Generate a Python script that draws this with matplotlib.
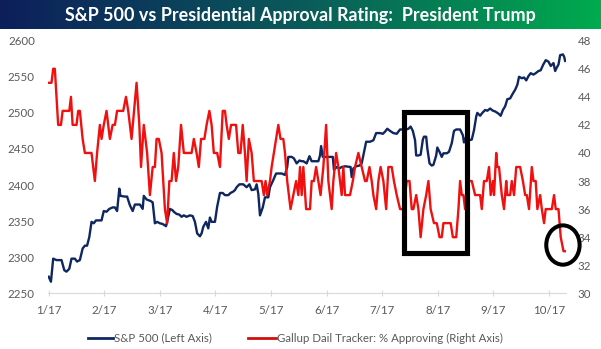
import numpy as np
import matplotlib
matplotlib.use("Agg")
import matplotlib.pyplot as plt
from matplotlib.patches import Rectangle, Ellipse
from matplotlib.lines import Line2D
from matplotlib.colors import LinearSegmentedColormap

plt.rcParams['font.family'] = ['Lato', 'DejaVu Sans']

# ---------------- data (x = months since 1 Jan 2017) ----------------
month_labels = ["1/17", "2/17", "3/17", "4/17", "5/17", "6/17", "7/17", "8/17", "9/17", "10/17"]
month_ticks = list(range(10))

sp_x = [0.00, 0.04, 0.08, 0.14, 0.23, 0.28, 0.32, 0.37, 0.41, 0.47, 0.51, 0.56, 0.61, 0.65, 0.69,
        0.73, 0.77, 0.81, 0.85, 0.95, 0.99, 1.04, 1.09, 1.15, 1.19, 1.23, 1.27, 1.29, 1.37, 1.41,
        1.46, 1.51, 1.55, 1.64, 1.69, 1.71, 1.76, 1.83, 1.87, 1.91, 1.95, 2.00, 2.05, 2.11, 2.13,
        2.18, 2.23, 2.25, 2.30, 2.35, 2.39, 2.43, 2.48, 2.54, 2.59, 2.63, 2.67, 2.72, 2.75, 2.78,
        2.83, 2.87, 2.90, 2.93, 2.99, 3.03, 3.08, 3.13, 3.17, 3.23, 3.27, 3.32, 3.35, 3.38, 3.43,
        3.50, 3.56, 3.61, 3.65, 3.71, 3.74, 3.77, 3.80, 3.85, 3.89, 3.95, 3.98, 4.04, 4.09, 4.19,
        4.25, 4.29, 4.31, 4.37, 4.41, 4.46, 4.51, 4.55, 4.58, 4.64, 4.69, 4.73, 4.85, 4.88, 4.90,
        4.93, 5.11, 5.13, 5.18, 5.23, 5.27, 5.33, 5.43, 5.45, 5.48, 5.53, 5.59, 5.63, 5.66, 5.71,
        5.78, 5.84, 5.89, 5.96, 6.01, 6.05, 6.09, 6.14, 6.20, 6.26, 6.32, 6.43, 6.47, 6.51, 6.55,
        6.59, 6.61, 6.65, 6.69, 6.73, 6.75, 6.79, 6.81, 6.85, 6.89, 6.92, 6.97, 6.99, 7.03, 7.07,
        7.10, 7.16, 7.20, 7.25, 7.29, 7.33, 7.40, 7.45, 7.47, 7.51, 7.55, 7.61, 7.65, 7.69, 7.71,
        7.76, 7.80, 7.85, 7.89, 7.94, 7.99, 8.03, 8.09, 8.13, 8.17, 8.21, 8.25, 8.30, 8.35, 8.39,
        8.43, 8.46, 8.51, 8.55, 8.59, 8.63, 8.67, 8.72, 8.76, 8.81, 8.85, 8.89, 8.94, 8.99, 9.03,
        9.08, 9.11, 9.14, 9.17, 9.20, 9.25, 9.27, 9.29]
sp_val = [2273, 2266, 2298, 2296, 2296, 2282, 2280, 2284, 2298, 2298, 2294, 2296, 2312, 2316, 2316,
          2328, 2349, 2347, 2351, 2351, 2364, 2363, 2367, 2369, 2369, 2364, 2395, 2385, 2384, 2384,
          2372, 2364, 2373, 2373, 2367, 2385, 2380, 2378, 2376, 2347, 2349, 2347, 2346, 2343, 2349,
          2367, 2365, 2363, 2360, 2359, 2356, 2358, 2356, 2358, 2357, 2349, 2333, 2329, 2333, 2342,
          2349, 2340, 2355, 2349, 2349, 2370, 2389, 2389, 2386, 2386, 2389, 2391, 2393, 2397, 2401,
          2401, 2397, 2401, 2393, 2394, 2401, 2388, 2358, 2369, 2383, 2383, 2397, 2407, 2416, 2416,
          2414, 2425, 2439, 2439, 2437, 2430, 2434, 2433, 2433, 2430, 2440, 2433, 2433, 2441, 2454,
          2439, 2439, 2421, 2425, 2423, 2425, 2426, 2425, 2411, 2423, 2426, 2427, 2430, 2441, 2460,
          2460, 2462, 2472, 2472, 2471, 2474, 2478, 2475, 2472, 2471, 2477, 2477, 2478, 2481, 2475,
          2462, 2441, 2441, 2442, 2463, 2467, 2467, 2451, 2430, 2427, 2428, 2441, 2452, 2446, 2439,
          2444, 2444, 2446, 2458, 2475, 2477, 2477, 2469, 2459, 2467, 2462, 2463, 2476, 2495, 2500,
          2496, 2500, 2504, 2503, 2506, 2503, 2502, 2499, 2496, 2504, 2509, 2519, 2520, 2527, 2532,
          2539, 2550, 2548, 2549, 2545, 2551, 2555, 2553, 2555, 2558, 2559, 2566, 2573, 2571, 2565,
          2569, 2558, 2563, 2567, 2580, 2581, 2578, 2572]

gallup_x = [0.00, 0.05, 0.08, 0.11, 0.14, 0.17, 0.22, 0.25, 0.37, 0.40, 0.43, 0.50, 0.53, 0.56, 0.61,
            0.65, 0.77, 0.83, 0.87, 0.92, 0.95, 0.99, 1.04, 1.10, 1.15, 1.19, 1.23, 1.34, 1.39, 1.43,
            1.49, 1.58, 1.63, 1.66, 1.71, 1.77, 1.82, 1.87, 1.91, 1.94, 1.98, 2.03, 2.09, 2.13, 2.17,
            2.21, 2.25, 2.29, 2.33, 2.38, 2.43, 2.57, 2.61, 2.66, 2.70, 2.74, 2.80, 2.84, 2.89, 2.93,
            2.97, 3.03, 3.08, 3.13, 3.17, 3.20, 3.24, 3.28, 3.37, 3.41, 3.45, 3.49, 3.53, 3.56, 3.60,
            3.65, 3.69, 3.83, 3.87, 3.90, 3.93, 3.98, 4.01, 4.05, 4.09, 4.13, 4.17, 4.22, 4.25, 4.29,
            4.35, 4.40, 4.45, 4.49, 4.52, 4.55, 4.58, 4.63, 4.70, 4.73, 4.77, 4.81, 4.85, 4.89, 4.94,
            4.99, 5.03, 5.06, 5.09, 5.12, 5.17, 5.21, 5.24, 5.27, 5.30, 5.33, 5.42, 5.47, 5.51, 5.57,
            5.63, 5.69, 5.72, 5.77, 5.81, 5.84, 5.89, 5.93, 5.97, 6.02, 6.07, 6.11, 6.17, 6.21, 6.26,
            6.32, 6.38, 6.44, 6.49, 6.53, 6.56, 6.61, 6.65, 6.69, 6.74, 6.79, 6.83, 6.87, 6.93, 6.98,
            7.03, 7.07, 7.10, 7.23, 7.27, 7.33, 7.37, 7.40, 7.43, 7.46, 7.49, 7.53, 7.61, 7.67, 7.76,
            7.79, 7.83, 7.88, 7.92, 7.95, 7.99, 8.01, 8.05, 8.07, 8.10, 8.15, 8.19, 8.23, 8.25, 8.30,
            8.33, 8.37, 8.41, 8.48, 8.53, 8.57, 8.60, 8.64, 8.69, 8.72, 8.76, 8.79, 8.84, 8.87, 8.91,
            8.94, 9.05, 9.09, 9.12, 9.17, 9.21, 9.26, 9.29]
gallup_val = [45, 45, 46, 46, 44, 42, 42, 43, 43, 44, 42, 42, 43, 43, 41,
              40, 40, 38, 40, 42, 41, 42, 43, 41, 42, 42, 43, 43, 44, 43,
              41, 45, 42, 39, 42, 40, 37, 39, 39, 41, 41, 40, 36, 35, 38,
              38, 40, 38, 39, 42, 40, 40, 41, 40, 39, 41, 41, 42, 43, 42,
              40, 40, 39, 43, 43, 42, 41, 42, 42, 40, 40, 42, 40, 38, 41,
              40, 38, 38, 37, 38, 37, 38, 39, 40, 41, 42, 41, 41, 40, 38,
              36, 37, 38, 37, 39, 37, 39, 36, 36, 38, 38, 39, 38, 37, 39,
              42, 38, 37, 36, 38, 40, 39, 38, 37, 39, 37, 37, 38, 39, 40,
              39, 38, 38, 39, 38, 37, 36, 38, 39, 38, 36, 39, 39, 38, 37,
              36, 36, 38, 38, 36, 36, 37, 36, 34, 36, 37, 38, 36, 35, 35,
              34, 34, 35, 35, 34, 34, 36, 38, 37, 37, 36, 38, 38, 37, 37,
              36, 38, 38, 39, 37, 38, 37, 40, 39, 39, 37, 36, 38, 37, 37,
              38, 37, 39, 39, 38, 37, 37, 36, 39, 38, 38, 36, 37, 36, 35,
              36, 36, 37, 36, 36, 34, 33, 33]

left_ticks = [2250, 2300, 2350, 2400, 2450, 2500, 2550, 2600]
right_ticks = [30, 32, 34, 36, 38, 40, 42, 44, 46, 48]

title = "S&P 500 vs Presidential Approval Rating:  President Trump"
sp_label = "S&P 500 (Left Axis)"
gallup_label = "Gallup Dail Tracker: % Approving (Right Axis)"

# ---------------- styling ----------------
W, H = 601, 349
NAVY = '#0f2660'
RED = '#f01010'
GRAY = '#595959'
AXIS_GRAY = '#d9d9d9'

fig = plt.figure(figsize=(W / 100, H / 100), dpi=100)
fig.patch.set_facecolor('white')

# title bar with gradient
bar_h = 29
tax = fig.add_axes([0, 1 - bar_h / H, 1, bar_h / H])
cmap = LinearSegmentedColormap.from_list('tb', ['#0d1f5a', '#0a5a5a', '#00ab4e'])
tax.imshow(np.linspace(0, 1, 512)[None, :], aspect='auto', cmap=cmap, extent=[0, 1, 0, 1])
tax.set_axis_off()
tt = tax.text(0.5, 0.47, title, color='white', fontsize=13.5, fontweight='bold',
              ha='center', va='center', transform=tax.transAxes)
fig.canvas.draw()
w = tt.get_window_extent().width
tt.set_fontsize(13.5 * 466 / w)

# main axes
x0, x1 = 48, 566
y_top, y_bot = 40.7, 293.3
ax = fig.add_axes([x0 / W, (H - y_bot) / H, (x1 - x0) / W, (y_bot - y_top) / H])
ax2 = ax.twinx()

ax.plot(sp_x, sp_val, color=NAVY, lw=1.7, solid_joinstyle='round')
ax2.plot(gallup_x, gallup_val, color=RED, lw=1.7, solid_joinstyle='round')

ax.set_xlim(-0.013, 9.305)
ax.set_ylim(2250, 2600)
ax2.set_ylim(30, 48)
ax.set_yticks(left_ticks)
ax2.set_yticks(right_ticks)
ax.set_xticks(month_ticks)
ax.set_xticklabels(month_labels)

for a in (ax, ax2):
    for s in a.spines.values():
        s.set_visible(False)
ax.spines['bottom'].set_visible(True)
ax.spines['bottom'].set_color(AXIS_GRAY)
ax.spines['bottom'].set_linewidth(0.8)

ax.tick_params(axis='x', direction='inout', length=5, width=0.8, color=AXIS_GRAY,
               labelcolor=GRAY, labelsize=8.3, pad=6)
ax.tick_params(axis='y', length=0, labelcolor=GRAY, labelsize=8.3, pad=9.5)
ax2.tick_params(axis='y', length=0, labelcolor=GRAY, labelsize=8.3, pad=8.5)

# annotation box and circle (in right-axis units)
ax2.add_patch(Rectangle((6.39, 32.87), 7.52 - 6.39, 42.9 - 32.87, fill=False,
                        edgecolor='black', lw=3.7, zorder=5, joinstyle='miter'))
ax2.add_patch(Ellipse((9.25, 33.44), 0.60, 2.8, fill=False, edgecolor='black',
                      lw=2.9, zorder=6, clip_on=False))

# legend
ly = (H - 338) / H
fig.add_artist(Line2D([88 / W, 113 / W], [ly, ly], color=NAVY, lw=2))
fig.text(114 / W, ly, sp_label, color=GRAY, fontsize=8.3, va='center', ha='left')
fig.add_artist(Line2D([248 / W, 276 / W], [ly, ly], color='#d01010', lw=2))
fig.text(277 / W, ly, gallup_label, color=GRAY, fontsize=8.3, va='center', ha='left')

fig.savefig('out.png', dpi=100)
